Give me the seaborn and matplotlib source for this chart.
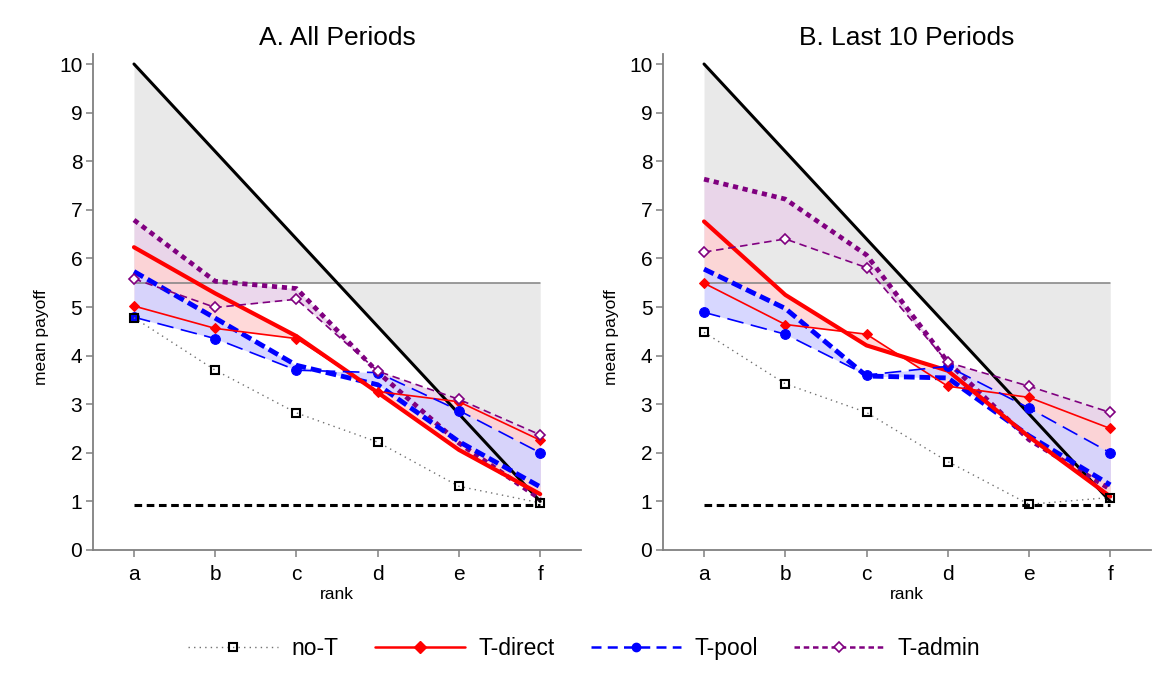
import matplotlib
matplotlib.use("Agg")
import matplotlib.pyplot as plt
from matplotlib.lines import Line2D
import seaborn as sns
import numpy as np
import pandas as pd

# ---------------- data ----------------
ranks = ['a', 'b', 'c', 'd', 'e', 'f']
max_payoff = [10.0, 8.2, 6.4, 4.6, 2.8, 1.0]
equal_split = [5.5, 5.5, 5.5, 5.5, 5.5, 5.5]
min_payoff = [0.93, 0.93, 0.93, 0.93, 0.93, 0.93]

# Panel A: All periods
noT_A = [4.78, 3.70, 2.82, 2.22, 1.31, 0.97]
direct_A = [5.02, 4.56, 4.35, 3.26, 3.05, 2.26]
direct_A_thick = [6.23, 5.28, 4.40, 3.24, 2.06, 1.15]
pool_A = [4.79, 4.35, 3.70, 3.65, 2.87, 2.00]
pool_A_thick = [5.73, 4.77, 3.80, 3.40, 2.23, 1.30]
admin_A = [5.58, 4.99, 5.16, 3.68, 3.10, 2.37]
admin_A_thick = [6.79, 5.53, 5.38, 3.66, 2.20, 1.05]

# Panel B: Last 10 periods
noT_B = [4.48, 3.42, 2.83, 1.82, 0.94, 1.08]
direct_B = [5.49, 4.64, 4.44, 3.37, 3.14, 2.50]
direct_B_thick = [6.76, 5.25, 4.21, 3.69, 2.33, 1.10]
pool_B = [4.89, 4.44, 3.60, 3.78, 2.92, 2.00]
pool_B_thick = [5.78, 4.97, 3.58, 3.54, 2.35, 1.34]
admin_B = [6.13, 6.40, 5.81, 3.86, 3.37, 2.83]
admin_B_thick = [7.63, 7.22, 6.07, 3.87, 2.27, 1.25]

titles = ['A. All Periods', 'B. Last 10 Periods']
labels = ['no-T', 'T-direct', 'T-pool', 'T-admin']

# ---------------- style ----------------
sns.set_theme(style="white")
plt.rcParams['font.family'] = ['Liberation Sans', 'DejaVu Sans']
plt.rcParams['text.color'] = 'black'
plt.rcParams['axes.labelcolor'] = 'black'
plt.rcParams['xtick.color'] = 'black'
plt.rcParams['ytick.color'] = 'black'

RED = '#ff0000'
BLUE = '#0000ff'
PURPLE = '#800080'
GREY_LINE = '#808080'

fig = plt.figure(figsize=(11.57, 6.77), dpi=100)
axA = fig.add_axes([0.0807, 0.1876, 0.4213, 0.7322])
axB = fig.add_axes([0.5734, 0.1876, 0.4213, 0.7322])

x = np.arange(len(ranks))


def line(ax, y, **kw):
    df = pd.DataFrame({'rank': x, 'value': y})
    sns.lineplot(data=df, x='rank', y='value', ax=ax, legend=False, **kw)


def panel(ax, title, noT, direct, direct_t, pool, pool_t, admin, admin_t):
    # grey area between max payoff and equal split
    ax.fill_between(x, max_payoff, equal_split, color='#e9e9e9', lw=0, zorder=0)
    # treatment ranges
    ax.fill_between(x, admin, admin_t, color='#e9d3ea', lw=0, zorder=1, alpha=0.9)
    ax.fill_between(x, direct, direct_t, color='#ffd3d3', lw=0, zorder=1, alpha=0.85)
    ax.fill_between(x, pool, pool_t, color='#d3d3ff', lw=0, zorder=1, alpha=0.9)

    line(ax, equal_split, color=GREY_LINE, linewidth=1.1, zorder=2)
    line(ax, max_payoff, color='black', linewidth=2.2, zorder=3)
    line(ax, min_payoff, color='black', linewidth=2.2,
         linestyle=(0, (2.5, 1.5)), zorder=3)

    # thick lines
    line(ax, admin_t, color=PURPLE, linewidth=3.4, linestyle=(0, (1.1, 1.0)), zorder=4)
    line(ax, pool_t, color=BLUE, linewidth=3.5, linestyle=(0, (2.2, 1.0)), zorder=4)
    line(ax, direct_t, color=RED, linewidth=3.0, zorder=4)

    # thin lines with markers
    line(ax, noT, color='#707070', linewidth=1.0, linestyle=(0, (1, 3)),
         marker='s', markersize=6, markerfacecolor='none',
         markeredgecolor='black', markeredgewidth=1.5, zorder=6)
    line(ax, direct, color=RED, linewidth=1.2, marker='D', markersize=5.5,
         markerfacecolor=RED, markeredgecolor=RED, zorder=5)
    line(ax, pool, color=BLUE, linewidth=1.2, linestyle=(0, (10, 4.5)),
         marker='o', markersize=7, markerfacecolor=BLUE,
         markeredgecolor=BLUE, zorder=5)
    line(ax, admin, color=PURPLE, linewidth=1.2, linestyle=(0, (4.5, 2.8)),
         marker='D', markersize=5, markerfacecolor='white',
         markeredgecolor=PURPLE, markeredgewidth=1.2, zorder=5)

    ax.set_xlim(-0.5, 5.5)
    ax.set_ylim(0, 10.2)
    ax.set_xticks(x)
    ax.set_xticklabels(ranks)
    ax.set_yticks(range(0, 11))
    ax.set_xlabel('rank', fontsize=12.5, labelpad=2)
    ax.set_ylabel('mean payoff', fontsize=12.5)
    ax.yaxis.set_label_coords(-0.092, 0.43)
    ax.set_title(title, fontsize=19, pad=7)
    for s in ['top', 'right']:
        ax.spines[s].set_visible(False)
    for s in ['left', 'bottom']:
        ax.spines[s].set_color(GREY_LINE)
        ax.spines[s].set_linewidth(1.3)
    ax.tick_params(axis='both', which='both', direction='out', length=5,
                   width=1.1, color=GREY_LINE, labelcolor='black', labelsize=15,
                   left=True, bottom=True, pad=3)
    ax.tick_params(axis='x', pad=6)
    ax.grid(False)


panel(axA, titles[0], noT_A, direct_A, direct_A_thick, pool_A, pool_A_thick,
      admin_A, admin_A_thick)
panel(axB, titles[1], noT_B, direct_B, direct_B_thick, pool_B, pool_B_thick,
      admin_B, admin_B_thick)

handles = [
    Line2D([], [], color='#707070', lw=1.0, ls=(0, (1, 3)), marker='s',
           ms=6, mfc='none', mec='black', mew=1.5),
    Line2D([], [], color=RED, lw=1.8, marker='D', ms=6, mfc=RED, mec=RED),
    Line2D([], [], color=BLUE, lw=1.8, ls=(0, (4, 2.5)), marker='o', ms=6,
           mfc=BLUE, mec=BLUE),
    Line2D([], [], color=PURPLE, lw=1.8, ls=(0, (2.2, 1.5)), marker='D', ms=5,
           mfc='white', mec=PURPLE, mew=1.2),
]
fig.legend(handles, labels, loc='center', bbox_to_anchor=(0.505, 0.042),
           ncol=4, frameon=False, fontsize=16.5, handlelength=3.9,
           handletextpad=0.6, columnspacing=1.6)

fig.savefig('out.png', dpi=100)
